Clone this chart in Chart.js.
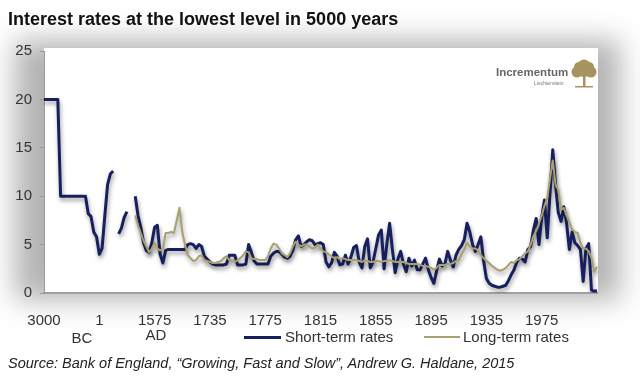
<!DOCTYPE html>
<html>
<head>
<meta charset="utf-8">
<script src="https://cdn.jsdelivr.net/npm/chart.js@4.4.1/dist/chart.umd.min.js"></script>
<style>
  body { margin: 0; background: #fff; font-family: "Liberation Sans", Arial, sans-serif; }
  #page { position: relative; width: 640px; height: 384px; overflow: hidden; }
  #frame { position: absolute; left: 15px; top: 40px; width: 605px; height: 260px; background: #b3b3b3; filter: blur(14px); }
  #chart { position: absolute; left: 0; top: 0; }
  .txt { position: absolute; white-space: nowrap; color: #333; font-size: 15px; line-height: 18px; }
  #title { left: 8px; top: 9px; font-size: 18px; line-height: 20px; font-weight: bold; color: #111; }
  #source { left: 8px; top: 354px; font-size: 14.5px; font-style: italic; color: #222; }
  .era { transform: translateX(-50%); }
  .swatch { position: absolute; }
  #logo { left: 496px; top: 65px; font-size: 11.5px; font-weight: bold; color: #666; line-height: 14px; }
  #logoSub { left: 534px; top: 80px; font-size: 5px; line-height: 6px; color: #777; }
</style>
</head>
<body>
<div id="page">
  <div id="frame"></div>
  <canvas id="chart" width="640" height="384"></canvas>
  <div class="txt" id="title">Interest rates at the lowest level in 5000 years</div>
  <div class="txt" id="logo">Incrementum</div>
  <div class="txt" id="logoSub">Liechtenstein</div>
  <div class="txt era" style="left:82px; top:329px;">BC</div>
  <div class="txt era" style="left:156px; top:326px;">AD</div>
  <div class="swatch" style="left:244px; top:336px; width:37px; height:3px; background:#17205e;"></div>
  <div class="txt" style="left:285px; top:328px;">Short-term rates</div>
  <div class="swatch" style="left:424px; top:336px; width:36px; height:2px; background:#a9a070;"></div>
  <div class="txt" style="left:463px; top:328px;">Long-term rates</div>
  <div class="txt" id="source">Source: Bank of England, “Growing, Fast and Slow”, Andrew G. Haldane, 2015</div>
</div>
<script>
// categories: uneven years, evenly spaced like the original sheet
const years = [
  -3000, -2850, -2700, -2550, -2400, -2250, -2100, -1950, -1800, -1650,
  -1500, -1350, -1200, -1050, -900, -750, -600, -450, -300, -150,
  1, 80, 160, 240, 320, 400, 480, 560, 640, 720,
  800, 880, 960, 1040, 1120, 1200, 1280, 1360, 1440, 1520,
  1575, 1583, 1591, 1599, 1607, 1615, 1623, 1631, 1639, 1647,
  1655, 1663, 1671, 1679, 1687, 1695, 1703, 1711, 1719, 1727,
  1735, 1737, 1739, 1741, 1743, 1745, 1747, 1749, 1751, 1753,
  1755, 1757, 1759, 1761, 1763, 1765, 1767, 1769, 1771, 1773,
  1775, 1777, 1779, 1781, 1783, 1785, 1787, 1789, 1791, 1793,
  1795, 1797, 1799, 1801, 1803, 1805, 1807, 1809, 1811, 1813,
  1815, 1817, 1819, 1821, 1823, 1825, 1827, 1829, 1831, 1833,
  1835, 1837, 1839, 1841, 1843, 1845, 1847, 1849, 1851, 1853,
  1855, 1857, 1859, 1861, 1863, 1865, 1867, 1869, 1871, 1873,
  1875, 1877, 1879, 1881, 1883, 1885, 1887, 1889, 1891, 1893,
  1895, 1897, 1899, 1901, 1903, 1905, 1907, 1909, 1911, 1913,
  1915, 1917, 1919, 1921, 1923, 1925, 1927, 1929, 1931, 1933,
  1935, 1937, 1939, 1941, 1943, 1945, 1947, 1949, 1951, 1953,
  1955, 1957, 1959, 1961, 1963, 1965, 1967, 1969, 1971, 1973,
  1975, 1977, 1979, 1981, 1983, 1985, 1987, 1989, 1991, 1993,
  1995, 1997, 1999, 2001, 2003, 2005, 2007, 2009, 2011, 2013,
  2015
];

const tickLabels = ['3000', '1', '1575', '1735', '1775', '1815', '1855', '1895', '1935', '1975'];

const shortTerm = [
  20, 20, 20, 20, 20, 20, 10, 10, 10, 10,
  10, 10, 10, 10, 10, 10, 8.2, 7.9, 6.3, 5.8,
  4.0, 4.6, 8.0, 11.2, 12.3, 12.6, null, 6.1, 6.7, 7.8,
  8.4, null, null, 10.0, 8.0, 6.8, 5.2, 4.4, 4.2, 5.2,
  6.8, 7.0, 4.0, 3.1, 4.4, 4.5, 4.5, 4.5, 4.5, 4.5,
  4.5, 4.5, 5.0, 5.1, 5.0, 4.6, 5.0, 4.8, 3.8, 3.5,
  3.2, 3.0, 2.9, 2.9, 2.9, 2.9, 3.0, 3.9, 3.9, 3.9,
  2.9, 2.9, 2.9, 3.0, 5.0, 4.2, 3.3, 3.0, 3.0, 3.0,
  3.0, 3.0, 3.8, 4.1, 4.3, 4.3, 4.0, 3.7, 3.6, 3.8,
  4.4, 5.5, 5.9, 4.8, 5.0, 5.3, 5.5, 5.4, 5.0, 5.1,
  5.2, 5.0, 3.2, 2.7, 3.1, 4.2, 3.8, 2.9, 3.0, 3.9,
  3.0, 3.7, 4.7, 4.9, 3.2, 2.6, 4.8, 5.6, 2.6, 3.2,
  4.6, 6.0, 6.5, 2.5, 5.1, 7.2, 4.5, 2.1, 3.5, 4.3,
  3.0, 2.2, 3.6, 2.8, 3.4, 2.4, 2.4, 3.0, 3.6, 2.4,
  1.6, 1.0, 2.3, 3.5, 2.8, 3.0, 4.3, 3.4, 2.7, 3.9,
  4.5, 4.9, 5.5, 7.2, 6.3, 5.0, 4.3, 5.0, 5.8, 3.3,
  1.5, 1.0, 0.8, 0.7, 0.6, 0.6, 0.7, 0.8, 1.3, 1.9,
  2.4, 3.2, 3.6, 3.5, 3.2, 4.5, 4.8, 6.5, 7.7, 5.0,
  7.8, 9.6, 5.7, 10.3, 14.8, 11.2, 8.3, 7.4, 8.9, 7.2,
  4.5, 6.3, 5.2, 4.9, 4.5, 1.2, 4.6, 5.1, 0.3, 0.2,
  0.2
];

const longTerm = [
  null, null, null, null, null, null, null, null, null, null,
  null, null, null, null, null, null, null, null, null, null,
  null, null, null, null, null, null, null, null, null, null,
  null, null, null, 8.0, 7.0, 6.2, 5.4, 4.8, 4.2, 4.6,
  5.2, 4.6, 4.4, 4.5, 6.2, 6.2, 6.3, 6.2, 7.5, 8.8,
  6.3, 5.0, 3.9, 3.6, 3.3, 3.4, 3.8, 3.9, 3.4, 3.3,
  3.2, 3.1, 3.1, 3.2, 3.3, 3.6, 3.8, 3.4, 3.3, 3.2,
  3.4, 3.6, 3.9, 4.3, 4.2, 3.6, 3.5, 3.5, 3.4, 3.4,
  3.4, 3.8, 4.6, 5.1, 5.0, 4.6, 4.1, 3.9, 3.7, 4.1,
  4.8, 5.3, 5.0, 4.8, 5.0, 5.0, 4.8, 4.6, 4.7, 5.0,
  4.6, 4.3, 4.2, 4.0, 3.8, 3.6, 3.7, 3.5, 3.6, 3.5,
  3.4, 3.4, 3.4, 3.4, 3.3, 3.2, 3.4, 3.3, 3.2, 3.2,
  3.3, 3.3, 3.2, 3.3, 3.3, 3.4, 3.3, 3.2, 3.2, 3.2,
  3.2, 3.1, 3.0, 3.0, 3.0, 3.0, 2.9, 2.8, 2.8, 2.7,
  2.6, 2.4, 2.6, 2.9, 2.9, 2.9, 3.0, 3.0, 3.1, 3.3,
  3.4, 4.0, 4.5, 5.2, 4.8, 4.6, 4.6, 4.4, 3.9, 3.6,
  3.3, 3.1, 2.8, 2.6, 2.4, 2.3, 2.4, 2.6, 2.9, 3.2,
  3.1, 3.4, 3.5, 3.8, 4.1, 4.3, 5.0, 5.9, 6.4, 7.2,
  8.0, 9.0, 9.8, 11.8, 13.7, 11.2, 10.6, 8.6, 8.8, 8.0,
  7.3, 6.6, 6.3, 6.2, 5.2, 4.6, 4.6, 4.3, 3.6, 2.2,
  2.7
];

// white plot panel, soft line shadows, tree of the logo
const panel = {
  id: 'panel',
  beforeDraw(chart) {
    const { ctx, chartArea: a } = chart;
    ctx.save();
    ctx.fillStyle = '#fff';
    ctx.fillRect(a.left, a.top - 3, a.right - a.left + 1, a.bottom - a.top + 3);
    ctx.restore();
  },
  beforeDatasetsDraw(chart) {
    const ctx = chart.ctx;
    ctx.save();
    ctx.shadowColor = 'rgba(0,0,0,0.4)';
    ctx.shadowBlur = 4;
    ctx.shadowOffsetX = 1;
    ctx.shadowOffsetY = 3;
  },
  afterDatasetsDraw(chart) {
    chart.ctx.restore();
  },
  afterDraw(chart) {
    const ctx = chart.ctx;
    ctx.save();
    ctx.fillStyle = '#a8935f';
    [[584, 69, 8], [577, 72, 5.5], [591, 72, 5.5], [584, 66, 6.5], [579, 67, 5], [589, 67, 5]].forEach(([x, y, r]) => {
      ctx.beginPath();
      ctx.arc(x, y, r, 0, Math.PI * 2);
      ctx.fill();
    });
    ctx.fillRect(583, 74, 2.5, 12);
    ctx.fillRect(575, 86, 18, 1.5);
    ctx.restore();
  }
};

Chart.defaults.font.family = '"Liberation Sans", Arial, sans-serif';

new Chart(document.getElementById('chart'), {
  type: 'line',
  data: {
    labels: years,
    datasets: [{
      label: 'Short-term rates',
      data: shortTerm,
      borderColor: '#17205e',
      borderWidth: 3,
      pointRadius: 0,
      tension: 0,
      borderJoinStyle: 'round',
      spanGaps: false,
      order: 1
    }, {
      label: 'Long-term rates',
      data: longTerm,
      borderColor: '#a9a070',
      borderWidth: 2,
      pointRadius: 0,
      tension: 0,
      borderJoinStyle: 'round',
      spanGaps: false,
      order: 0
    }]
  },
  options: {
    responsive: false,
    animation: false,
    devicePixelRatio: 1,
    layout: { padding: { top: 51, right: 43, bottom: 0, left: 0 } },
    plugins: {
      legend: { display: false },
      tooltip: { enabled: false }
    },
    scales: {
      x: {
        type: 'category',
        offset: false,
        grid: { display: false },
        border: { color: '#a0a0a0', width: 2 },
        afterBuildTicks: s => { s.ticks = s.ticks.filter(t => t.value % 20 === 0 && t.value <= 180); },
        afterFit: s => { s.height = 91; },
        ticks: {
          autoSkip: false,
          maxRotation: 0,
          minRotation: 0,
          padding: 11,
          color: '#333',
          font: { size: 15 },
          callback: v => tickLabels[v / 20]
        }
      },
      y: {
        min: 0,
        max: 25,
        afterFit: s => { s.width = 44; },
        grid: { drawOnChartArea: false, tickLength: 4, color: '#999' },
        border: { color: '#999', width: 1 },
        ticks: { stepSize: 5, padding: 8, color: '#333', font: { size: 15 } }
      }
    }
  },
  plugins: [panel]
});
</script>
</body>
</html>
